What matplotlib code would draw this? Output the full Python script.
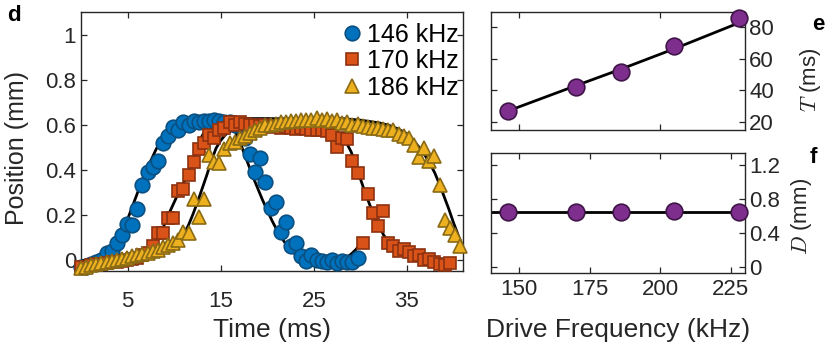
import numpy as np
import matplotlib
matplotlib.use("Agg")
import matplotlib.pyplot as plt

plt.rcParams['font.family'] = ['Liberation Sans', 'DejaVu Sans']
plt.rcParams['mathtext.fontset'] = 'cm'

# frame period of the position traces (ms)
frame_ms = 0.55

pos146 = [-0.03, -0.03, -0.02, -0.01, 0.0, 0.03, 0.04, 0.075, 0.11, 0.16,
          0.155, 0.225, 0.33, 0.39, 0.41, 0.44, 0.52, 0.55, 0.59, 0.577,
          0.61, 0.6, 0.615, 0.612, 0.618, 0.615, 0.62, 0.615, 0.612, 0.61,
          0.6, 0.6, 0.54, 0.47, 0.39, 0.45, 0.345, 0.23, 0.255, 0.125,
          0.17, 0.06, 0.075, 0.015, -0.005, 0.02, 0.0, -0.005, -0.01, 0.0,
          -0.015, -0.005, -0.01, -0.01, 0.01]

pos170 = [-0.03, -0.03, -0.025, -0.02, -0.02, -0.015, -0.01, -0.01, -0.005, 0.0,
          0.005, 0.01, 0.02, 0.03, 0.06, 0.12, 0.12, 0.185, 0.185, 0.305,
          0.315, 0.375, 0.435, 0.49, 0.52, 0.555, 0.54, 0.575, 0.585, 0.61,
          0.6, 0.61, 0.605, 0.6, 0.6, 0.595, 0.6, 0.59, 0.595, 0.585,
          0.59, 0.585, 0.58, 0.585, 0.58, 0.575, 0.578, 0.575, 0.57, 0.555,
          0.5, 0.54, 0.535, 0.44, 0.385, 0.075, 0.29, 0.21, 0.15, 0.215,
          0.075, 0.06, 0.04, 0.05, 0.035, 0.015, 0.02, 0.0, 0.005, -0.01,
          -0.02, -0.025, -0.015]

pos186 = [-0.035, -0.03, -0.025, -0.02, -0.015, -0.01, -0.005, 0.0, 0.005, 0.01,
          0.015, 0.02, 0.025, 0.03, 0.04, 0.045, 0.055, 0.065, 0.075, 0.09,
          0.125, 0.12, 0.27, 0.19, 0.27, 0.465, 0.435, 0.43, 0.49, 0.52,
          0.525, 0.54, 0.55, 0.565, 0.575, 0.585, 0.6, 0.6, 0.605, 0.61,
          0.61, 0.615, 0.615, 0.62, 0.62, 0.62, 0.63, 0.62, 0.625, 0.615,
          0.62, 0.607, 0.61, 0.6, 0.605, 0.595, 0.59, 0.585, 0.585, 0.58,
          0.575, 0.575, 0.56, 0.55, 0.54, 0.51, 0.455, 0.495, 0.44, 0.46,
          0.33, 0.175, 0.14, 0.11, 0.06]

# fitted curves
fit146_t = [0, 1, 2, 3, 3.5, 4, 4.5, 5, 5.5, 6, 6.5, 7, 7.5, 8, 8.5, 9, 9.5, 10,
            10.5, 11, 12, 13, 14, 15, 15.5, 16, 16.5, 17, 17.5, 18, 18.5, 19,
            19.5, 20, 20.5, 21, 21.5, 22, 22.5, 23, 23.5, 24, 25, 26, 27, 28,
            28.5, 29, 29.5, 30, 30.3]
fit146_y = [-0.005, 0.005, 0.02, 0.045, 0.065, 0.09, 0.13, 0.18, 0.235, 0.29,
            0.345, 0.395, 0.44, 0.485, 0.525, 0.555, 0.58, 0.598, 0.61, 0.617,
            0.622, 0.625, 0.625, 0.624, 0.62, 0.605, 0.575, 0.53, 0.475, 0.42,
            0.365, 0.315, 0.265, 0.22, 0.175, 0.135, 0.1, 0.07, 0.045, 0.025,
            0.012, 0.005, 0.0, 0.0, 0.0, 0.002, 0.01, 0.025, 0.045, 0.07, 0.085]

fit170_t = [0, 2, 4, 5, 6, 7, 7.5, 8, 8.5, 9, 9.5, 10, 10.5, 11, 11.5, 12, 12.5,
            13, 13.5, 14, 15, 16, 18, 20, 22, 24, 25, 26, 26.5, 27, 27.5, 28,
            28.5, 29, 29.5, 30, 30.5, 31, 31.5, 32, 32.5, 33, 33.5, 34, 35, 36,
            37, 38, 39, 40]
fit170_y = [-0.01, 0.0, 0.008, 0.015, 0.025, 0.04, 0.05, 0.075, 0.115, 0.16,
            0.21, 0.255, 0.3, 0.34, 0.385, 0.44, 0.5, 0.55, 0.585, 0.605,
            0.62, 0.625, 0.627, 0.627, 0.626, 0.625, 0.622, 0.615, 0.605, 0.59,
            0.57, 0.55, 0.52, 0.48, 0.425, 0.36, 0.3, 0.245, 0.195, 0.15,
            0.11, 0.08, 0.055, 0.04, 0.02, 0.01, 0.005, 0.0, 0.0, 0.0]

fit186_t = [0, 2, 4, 6, 8, 9, 10, 10.5, 11, 11.5, 12, 12.5, 13, 13.5, 14, 14.5,
            15, 15.5, 16, 17, 18, 19, 20, 22, 25, 28, 30, 32, 33, 34, 35, 35.5,
            36, 36.5, 37, 37.5, 38, 38.5, 39, 39.5, 40, 40.5, 41]
fit186_y = [-0.01, 0.0, 0.01, 0.022, 0.04, 0.055, 0.075, 0.09, 0.115, 0.15,
            0.2, 0.255, 0.315, 0.375, 0.44, 0.495, 0.53, 0.555, 0.57, 0.588,
            0.6, 0.61, 0.618, 0.625, 0.63, 0.627, 0.62, 0.608, 0.598, 0.582,
            0.56, 0.54, 0.515, 0.49, 0.46, 0.425, 0.385, 0.335, 0.28, 0.225,
            0.165, 0.11, 0.055]

labels = ['146 kHz', '170 kHz', '186 kHz']

freq = [146, 170, 186, 205, 228]
T_ms = [27, 42, 52, 68, 86]
T_fit = [27, 43, 53.5, 66.5, 83]
D_mm = [0.652, 0.652, 0.652, 0.658, 0.648]
D_fit_f = [140, 230]
D_fit = [0.652, 0.652]

blue, blue_e = '#0072BD', '#0B4F80'
orange, orange_e = '#D95319', '#8C3210'
yellow, yellow_e = '#EDB120', '#8A6A14'
purple, purple_e = '#7E2F8E', '#3F1548'
spine_c = '#262626'
tick_fs = 16
label_fs = 19

fig = plt.figure(figsize=(8.3, 3.53), dpi=100)
ax = fig.add_axes([0.0976, 0.232, 0.460, 0.734])
ax_e = fig.add_axes([0.5916, 0.632, 0.306, 0.335])
ax_f = fig.add_axes([0.5916, 0.226, 0.306, 0.340])

t146 = frame_ms * np.arange(len(pos146))
t170 = frame_ms * np.arange(len(pos170))
t186 = frame_ms * np.arange(len(pos186))

ax.plot(fit146_t, fit146_y, color='k', lw=2, zorder=2)
ax.plot(fit170_t, fit170_y, color='k', lw=2, zorder=2)
ax.plot(fit186_t, fit186_y, color='k', lw=2, zorder=2)
h1, = ax.plot(t146, pos146, 'o', ms=10.5, mfc=blue, mec=blue_e, mew=1.2,
              ls='none', zorder=3, clip_on=False, label=labels[0])
h2, = ax.plot(t170, pos170, 's', ms=8.5, mfc=orange, mec=orange_e, mew=1.2,
              ls='none', zorder=4, clip_on=False, label=labels[1])
h3, = ax.plot(t186, pos186, '^', ms=10.5, mfc=yellow, mec=yellow_e, mew=1.2,
              ls='none', zorder=5, clip_on=False, label=labels[2])

ax.set_xlim(0, 41)
ax.set_ylim(-0.05, 1.1)
ax.set_xticks([5, 15, 25, 35])
ax.set_yticks([0, 0.2, 0.4, 0.6, 0.8, 1])
ax.set_yticklabels(['0', '0.2', '0.4', '0.6', '0.8', '1'])
ax.tick_params(axis='x', pad=14)
ax.set_ylabel('Position (mm)', fontsize=18, color=spine_c)
ax.yaxis.set_label_coords(-0.136, 0.475)
ax.set_xlabel('Time (ms)', fontsize=label_fs, color=spine_c)
leg = ax.legend(handles=[h1, h2, h3], loc='upper right', frameon=False,
                fontsize=18, handletextpad=0.0, labelspacing=0.1,
                bbox_to_anchor=(1.035, 1.027), handlelength=1.2, borderpad=0.2)

# panel e
ax_e.plot(freq, T_fit, color='k', lw=2, zorder=2)
ax_e.plot(freq, T_ms, 'o', ms=12, mfc=purple, mec=purple_e, mew=1.2,
          clip_on=False, zorder=3)
ax_e.set_xlim(140, 230)
ax_e.set_ylim(15, 90)
ax_e.set_xticks([150, 200])
ax_e.set_xticklabels([])
ax_e.set_yticks([20, 40, 60, 80])
ax_e.yaxis.tick_right()
ax_e.set_ylabel('$T$ (ms)', fontsize=16, color=spine_c)
ax_e.yaxis.set_label_position('right')
ax_e.yaxis.set_label_coords(1.21, 0.42)

# panel f
ax_f.plot(D_fit_f, D_fit, color='k', lw=2, zorder=2)
ax_f.plot(freq, D_mm, 'o', ms=12, mfc=purple, mec=purple_e, mew=1.2,
          clip_on=False, zorder=3)
ax_f.set_xlim(140, 230)
ax_f.set_ylim(-0.07, 1.34)
ax_f.set_xticks([150, 175, 200, 225])
ax_f.set_yticks([0, 0.4, 0.8, 1.2])
ax_f.set_yticklabels(['0', '0.4', '0.8', '1.2'])
ax_f.yaxis.tick_right()
ax_f.set_ylabel('$D$ (mm)', fontsize=16, color=spine_c)
ax_f.yaxis.set_label_position('right')
ax_f.yaxis.set_label_coords(1.175, 0.47)
ax_f.tick_params(axis='x', pad=4)
ax_f.set_xlabel('Drive Frequency (kHz)', fontsize=label_fs, color=spine_c)

for a in (ax, ax_e, ax_f):
    for s in a.spines.values():
        s.set_color(spine_c)
        s.set_linewidth(1.0)
    a.tick_params(direction='in', top=True, bottom=True, left=True, right=True,
                  length=4, width=0.9, color=spine_c, labelsize=tick_fs,
                  labelcolor=spine_c)
ax_e.tick_params(labelleft=False, labelright=True, pad=3)
ax_f.tick_params(axis='y', labelleft=False, labelright=True, pad=3)

# put both x labels on the same baseline
ax.xaxis.set_label_coords(0.5, (-330 + 271) / 259, transform=ax.transAxes)
ax_f.xaxis.set_label_coords(0.5, (273 - 330) / 120, transform=ax_f.transAxes)
ax.xaxis.label.set_va('center')
ax_f.xaxis.label.set_va('center')

fig.text(0.008, 0.955, 'd', fontsize=16, fontweight='bold', va='center')
fig.text(0.993, 0.93, 'e', fontsize=16, fontweight='bold', va='center',
         ha='right')
fig.text(0.985, 0.553, 'f', fontsize=16, fontweight='bold', va='center',
         ha='right')

fig.savefig('out.png', dpi=100)
